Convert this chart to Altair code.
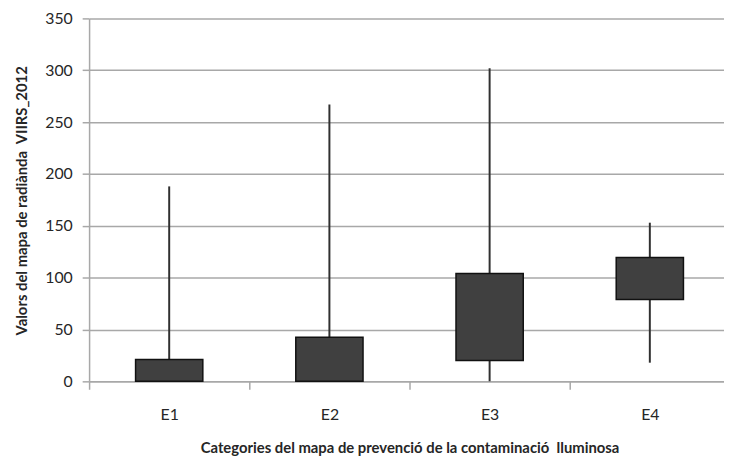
import altair as alt
import pandas as pd

categories = ["E1", "E2", "E3", "E4"]
whisker_low = [0, 0, 0, 18]
box_low = [0, 0, 20, 79]
box_high = [21, 42.5, 104, 119.5]
whisker_high = [188, 267, 302, 153]
y_ticks = [0, 50, 100, 150, 200, 250, 300, 350]

df = pd.DataFrame({
    "cat": categories,
    "wlo": whisker_low,
    "q1": box_low,
    "q3": box_high,
    "whi": whisker_high,
})

FONT = "Lato"
TXT = "#262626"
GRID = "#a8a8a8"

x_enc = alt.X(
    "cat:N",
    sort=categories,
    scale=alt.Scale(range=[0, 648], paddingInner=0, paddingOuter=0),
    axis=alt.Axis(
        title="Categories del mapa de prevenció de la contaminació\u00a0 lluminosa",
        labelAngle=0,
        tickBand="extent",
        tickSize=8,
        tickColor=GRID,
        tickWidth=1.5,
        domainColor=GRID,
        domainWidth=1.5,
        labelPadding=18,
        labelFont=FONT,
        labelFontSize=16,
        labelColor=TXT,
        titleFont=FONT,
        titleFontSize=15,
        titleFontWeight="bold",
        titleColor=TXT,
        titleX=324,
        titleY=72,
        titleBaseline="alphabetic",
        grid=False,
    ),
)

y_axis = alt.Axis(
    title="Valors del mapa de radiànda\u00a0 VIIRS_2012",
    values=y_ticks,
    tickSize=7,
    tickColor=GRID,
    tickWidth=1.5,
    domainColor=GRID,
    domainWidth=1.5,
    gridColor=GRID,
    gridWidth=1.5,
    gridOpacity=1,
    labelPadding=10,
    labelFont=FONT,
    labelFontSize=16,
    labelColor=TXT,
    titleFont=FONT,
    titleFontSize=15,
    titleFontWeight="bold",
    titleColor=TXT,
    titleX=-63,
    titleY=184,
    titleAngle=270,
    titleAlign="center",
    titleBaseline="alphabetic",
)
y_scale = alt.Scale(domain=[0, 350], nice=False)

base = alt.Chart(df)

whiskers = base.mark_rule(color="#303030", strokeWidth=2).encode(
    x=x_enc,
    y=alt.Y("wlo:Q", scale=y_scale, axis=y_axis),
    y2="whi:Q",
)

boxes = base.mark_bar(size=68, color="#404040", stroke="#111111", strokeWidth=1.5).encode(
    x=x_enc,
    y=alt.Y("q1:Q", scale=y_scale, axis=y_axis),
    y2="q3:Q",
)

chart = (
    alt.layer(whiskers, boxes)
    .properties(
        width=642,
        height=367,
        autosize=alt.AutoSizeParams(type="none"),
        padding={"left": 82, "top": 8, "right": 0, "bottom": 77},
    )
    .configure_view(stroke=None)
)

chart.save("out.html", embed_options={"renderer": "svg", "actions": False})
